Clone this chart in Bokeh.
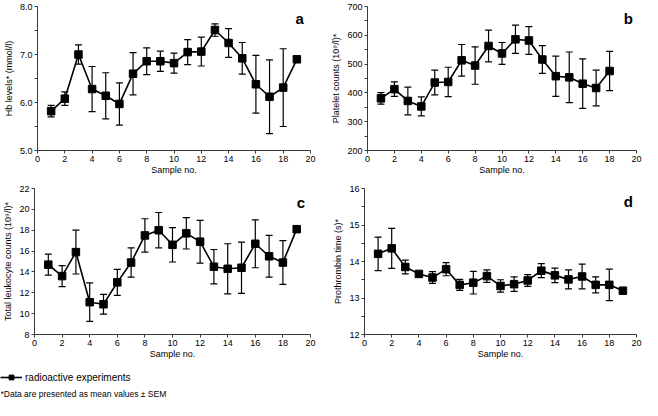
from bokeh.plotting import figure
from bokeh.models import (Range1d, FixedTicker, Whisker, ColumnDataSource, TeeHead,
                          Label, Legend, LegendItem, PrintfTickFormatter)
from bokeh.layouts import column, row
from bokeh.embed import file_html
from bokeh.resources import INLINE

# ---------------- data ----------------
samples = list(range(1, 20))
samples_b = list(range(1, 19))

hb_mean = [5.82, 6.08, 7.00, 6.28, 6.14, 5.97, 6.60, 6.86, 6.86, 6.82,
           7.05, 7.06, 7.51, 7.24, 6.92, 6.38, 6.12, 6.31, 6.90]
hb_sem = [0.12, 0.14, 0.20, 0.47, 0.48, 0.44, 0.44, 0.28, 0.21, 0.21,
          0.26, 0.30, 0.13, 0.30, 0.33, 0.60, 0.77, 0.81, 0.0]

plt_mean = [381, 413, 372, 353, 436, 438, 513, 495, 563, 537,
            586, 582, 516, 458, 454, 432, 417, 476]
plt_sem = [20, 25, 48, 33, 43, 51, 55, 65, 55, 38,
           49, 48, 48, 70, 88, 86, 62, 68]

wbc_mean = [14.7, 13.6, 15.9, 11.1, 10.9, 13.0, 14.9, 17.5, 18.0, 16.6,
            17.7, 16.9, 14.5, 14.3, 14.4, 16.7, 15.5, 14.9, 18.1]
wbc_sem = [1.0, 1.0, 2.1, 1.85, 0.95, 1.25, 1.4, 1.6, 1.7, 1.65,
           1.5, 2.05, 1.65, 2.4, 2.45, 2.3, 2.0, 2.1, 0.0]

pt_mean = [14.21, 14.36, 13.85, 13.66, 13.56, 13.79, 13.36, 13.42, 13.60, 13.33,
           13.38, 13.48, 13.75, 13.62, 13.51, 13.59, 13.36, 13.36, 13.20]
pt_sem = [0.46, 0.55, 0.19, 0.05, 0.16, 0.18, 0.15, 0.31, 0.17, 0.17,
          0.20, 0.16, 0.19, 0.20, 0.26, 0.34, 0.22, 0.43, 0.05]

x_ticks = [0, 2, 4, 6, 8, 10, 12, 14, 16, 18, 20]
a_ticks = [5.0, 6.0, 7.0, 8.0]
a_minor = [5.5, 6.5, 7.5]
b_ticks = [200, 300, 400, 500, 600, 700]
b_minor = [250, 350, 450, 550, 650]
c_ticks = [8, 10, 12, 14, 16, 18, 20, 22]
c_minor = []
d_ticks = [12, 13, 14, 15, 16]
d_minor = [12.5, 13.5, 14.5, 15.5]

x_title = "Sample no."
legend_text = "radioactive experiments"
footnote = "*Data are presented as mean values \u00b1 SEM"

FONT = "Liberation Sans"
AX = "#3a3a3a"


def panel(xs, mean, sem, yticks, yminor, ylabel, letter, lx, ly,
          width, height, bl, br, bt, bb, fmt=None):
    p = figure(width=width, height=height, x_range=Range1d(0, 20),
               y_range=Range1d(yticks[0], yticks[-1]),
               toolbar_location=None, output_backend="svg",
               min_border_left=bl, min_border_right=br,
               min_border_top=bt, min_border_bottom=bb)
    p.outline_line_color = None
    p.xgrid.visible = False
    p.ygrid.visible = False
    p.background_fill_color = "white"
    p.border_fill_color = "white"

    lower = [m - s for m, s in zip(mean, sem)]
    upper = [m + s for m, s in zip(mean, sem)]
    src = ColumnDataSource(dict(x=xs, lower=lower, upper=upper))
    w = Whisker(base="x", lower="lower", upper="upper", source=src,
                line_color="black", line_width=1.2,
                upper_head=TeeHead(size=7, line_color="black", line_width=1.2),
                lower_head=TeeHead(size=7, line_color="black", line_width=1.2))
    w.level = "underlay"
    p.add_layout(w)
    p.line(xs, mean, line_color="black", line_width=1.6)
    p.scatter(xs, mean, marker="square", size=7.5, color="black")

    p.xaxis.ticker = FixedTicker(ticks=x_ticks, minor_ticks=[])
    p.yaxis.ticker = FixedTicker(ticks=yticks, minor_ticks=yminor)
    if fmt:
        p.yaxis.formatter = PrintfTickFormatter(format=fmt)
    for ax in (p.xaxis, p.yaxis):
        ax.axis_line_color = AX
        ax.axis_line_width = 1
        ax.major_tick_line_color = AX
        ax.minor_tick_line_color = AX
        ax.major_tick_in = 0
        ax.major_tick_out = 3
        ax.minor_tick_in = 0
        ax.minor_tick_out = 3
        ax.major_label_text_font = FONT
        ax.major_label_text_font_size = "9px"
        ax.major_label_text_color = "black"
        ax.major_label_standoff = 2
        ax.axis_label_text_font = FONT
        ax.axis_label_text_font_size = "9px"
        ax.axis_label_text_font_style = "normal"
        ax.axis_label_text_color = "black"
    p.xaxis.axis_label = x_title
    p.xaxis.axis_label_standoff = 0
    p.yaxis.axis_label = ylabel
    p.yaxis.axis_label_standoff = 3

    p.add_layout(Label(x=lx, y=ly, text=letter, text_font=FONT,
                       text_font_style="bold", text_font_size="15px",
                       text_align="center", text_baseline="middle",
                       text_color="black"))
    return p


pa = panel(samples, hb_mean, hb_sem, a_ticks, a_minor, "Hb levels* (mmol/l)",
           "a", 19.2, 7.75, 328, 180, 34, 18, 6, 30, fmt="%.1f")
pb = panel(samples_b, plt_mean, plt_sem, b_ticks, b_minor,
           "Platelet counts (10\u2079/l)*", "b", 19.4, 657, 314, 180, 36, 6, 6, 30)
pc = panel(samples, wbc_mean, wbc_sem, c_ticks, c_minor,
           "Total leukocyte counts (10\u2079/l)*", "c", 19.3, 20.7, 328, 184, 34, 18, 8, 30)
pd = panel(samples, pt_mean, pt_sem, d_ticks, d_minor,
           "Prothrombin time (s)*", "d", 19.4, 15.64, 314, 184, 36, 6, 8, 30)

# legend / footnote strip
pl = figure(width=642, height=36, x_range=Range1d(-2, -1), y_range=Range1d(0, 1),
            x_axis_type=None, y_axis_type=None, toolbar_location=None,
            output_backend="svg", min_border=0)
pl.outline_line_color = None
pl.xgrid.visible = False
pl.ygrid.visible = False
rl = pl.line(samples, hb_mean, line_color="black", line_width=1.6)
rs = pl.scatter(samples, hb_mean, marker="square", size=7.5, color="black")
leg = Legend(items=[LegendItem(label=legend_text, renderers=[rl, rs])],
             location=(0, 17), border_line_color=None, background_fill_alpha=0,
             padding=0, margin=0, spacing=0, glyph_width=22, glyph_height=12,
             label_height=12, label_standoff=3, label_text_font=FONT,
             label_text_font_size="10px", label_text_color="black")
pl.add_layout(leg)
pl.add_layout(Label(x=0, y=7, x_units="screen", y_units="screen", text=footnote,
                    text_font=FONT, text_font_size="8.5px", text_baseline="middle",
                    text_color="black"))

layout = column(row(pa, pb), row(pc, pd), pl)
open("out.html", "w").write(file_html(layout, INLINE))
